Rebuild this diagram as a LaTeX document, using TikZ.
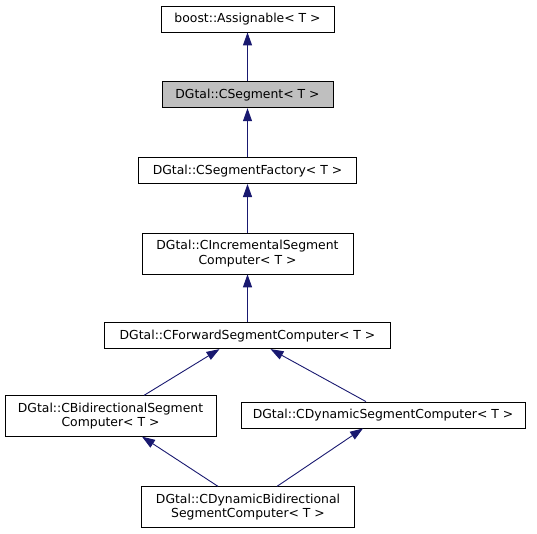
\documentclass[tikz,border=0pt]{standalone}
\usepackage{fontspec}
\setmainfont{DejaVu Sans}
\usetikzlibrary{arrows.meta,positioning}
\definecolor{dxnavy}{HTML}{191970}
\definecolor{dxgrey}{HTML}{BFBFBF}

\begin{document}
\begin{tikzpicture}[x=1pt,y=1pt,
  cls/.style={draw=black,fill=white,line width=0.8pt,align=center,
    font=\fontsize{12.4}{14.5}\selectfont,inner xsep=5pt,inner ysep=7pt,minimum height=26pt},
  cur/.style={cls,fill=dxgrey},
  inh/.style={{Triangle[length=13pt,width=9pt]}-,line width=0.9pt,dxnavy},
  node distance=49pt]
  \useasboundingbox (0,0) rectangle (537,-533);
  % inheritance chain
  \node[cls,minimum width=173pt] (assign) at (247.5,-19) {boost::Assignable< T >};
  \node[cur,minimum width=171pt,below=of assign] (cseg) {DGtal::CSegment< T >};
  \node[cls,minimum width=218pt,below=of cseg] (factory) {DGtal::CSegmentFactory< T >};
  \node[cls,minimum width=211pt,below=of factory] (incr) {DGtal::CIncrementalSegment\\Computer< T >};
  \node[cls,minimum width=286pt,below=48pt of incr] (fwd) {DGtal::CForwardSegmentComputer< T >};
  % lower diamond
  \node[cls,minimum width=211pt] (bidir) at (110.5,-416) {DGtal::CBidirectionalSegment\\Computer< T >};
  \node[cls,minimum width=284pt] (dyn) at (383,-415) {DGtal::CDynamicSegmentComputer< T >};
  \node[cls,minimum width=213pt] (dynbidir) at (248,-507) {DGtal::CDynamicBidirectional\\SegmentComputer< T >};
  \draw[inh] (assign.south) -- (cseg.north);
  \draw[inh] (cseg.south) -- (factory.north);
  \draw[inh] (factory.south) -- (incr.north);
  \draw[inh] (incr.south) -- (fwd.north);
  \draw[inh] ([xshift=-28pt]fwd.south) -- ([xshift=33.5pt]bidir.north);
  \draw[inh] ([xshift=23pt]fwd.south) -- ([xshift=-17pt]dyn.north);
  \draw[inh] ([xshift=31.5pt]bidir.south) -- ([xshift=-30pt]dynbidir.north);
  \draw[inh] ([xshift=-20pt]dyn.south) -- ([xshift=29pt]dynbidir.north);
\end{tikzpicture}
\end{document}
